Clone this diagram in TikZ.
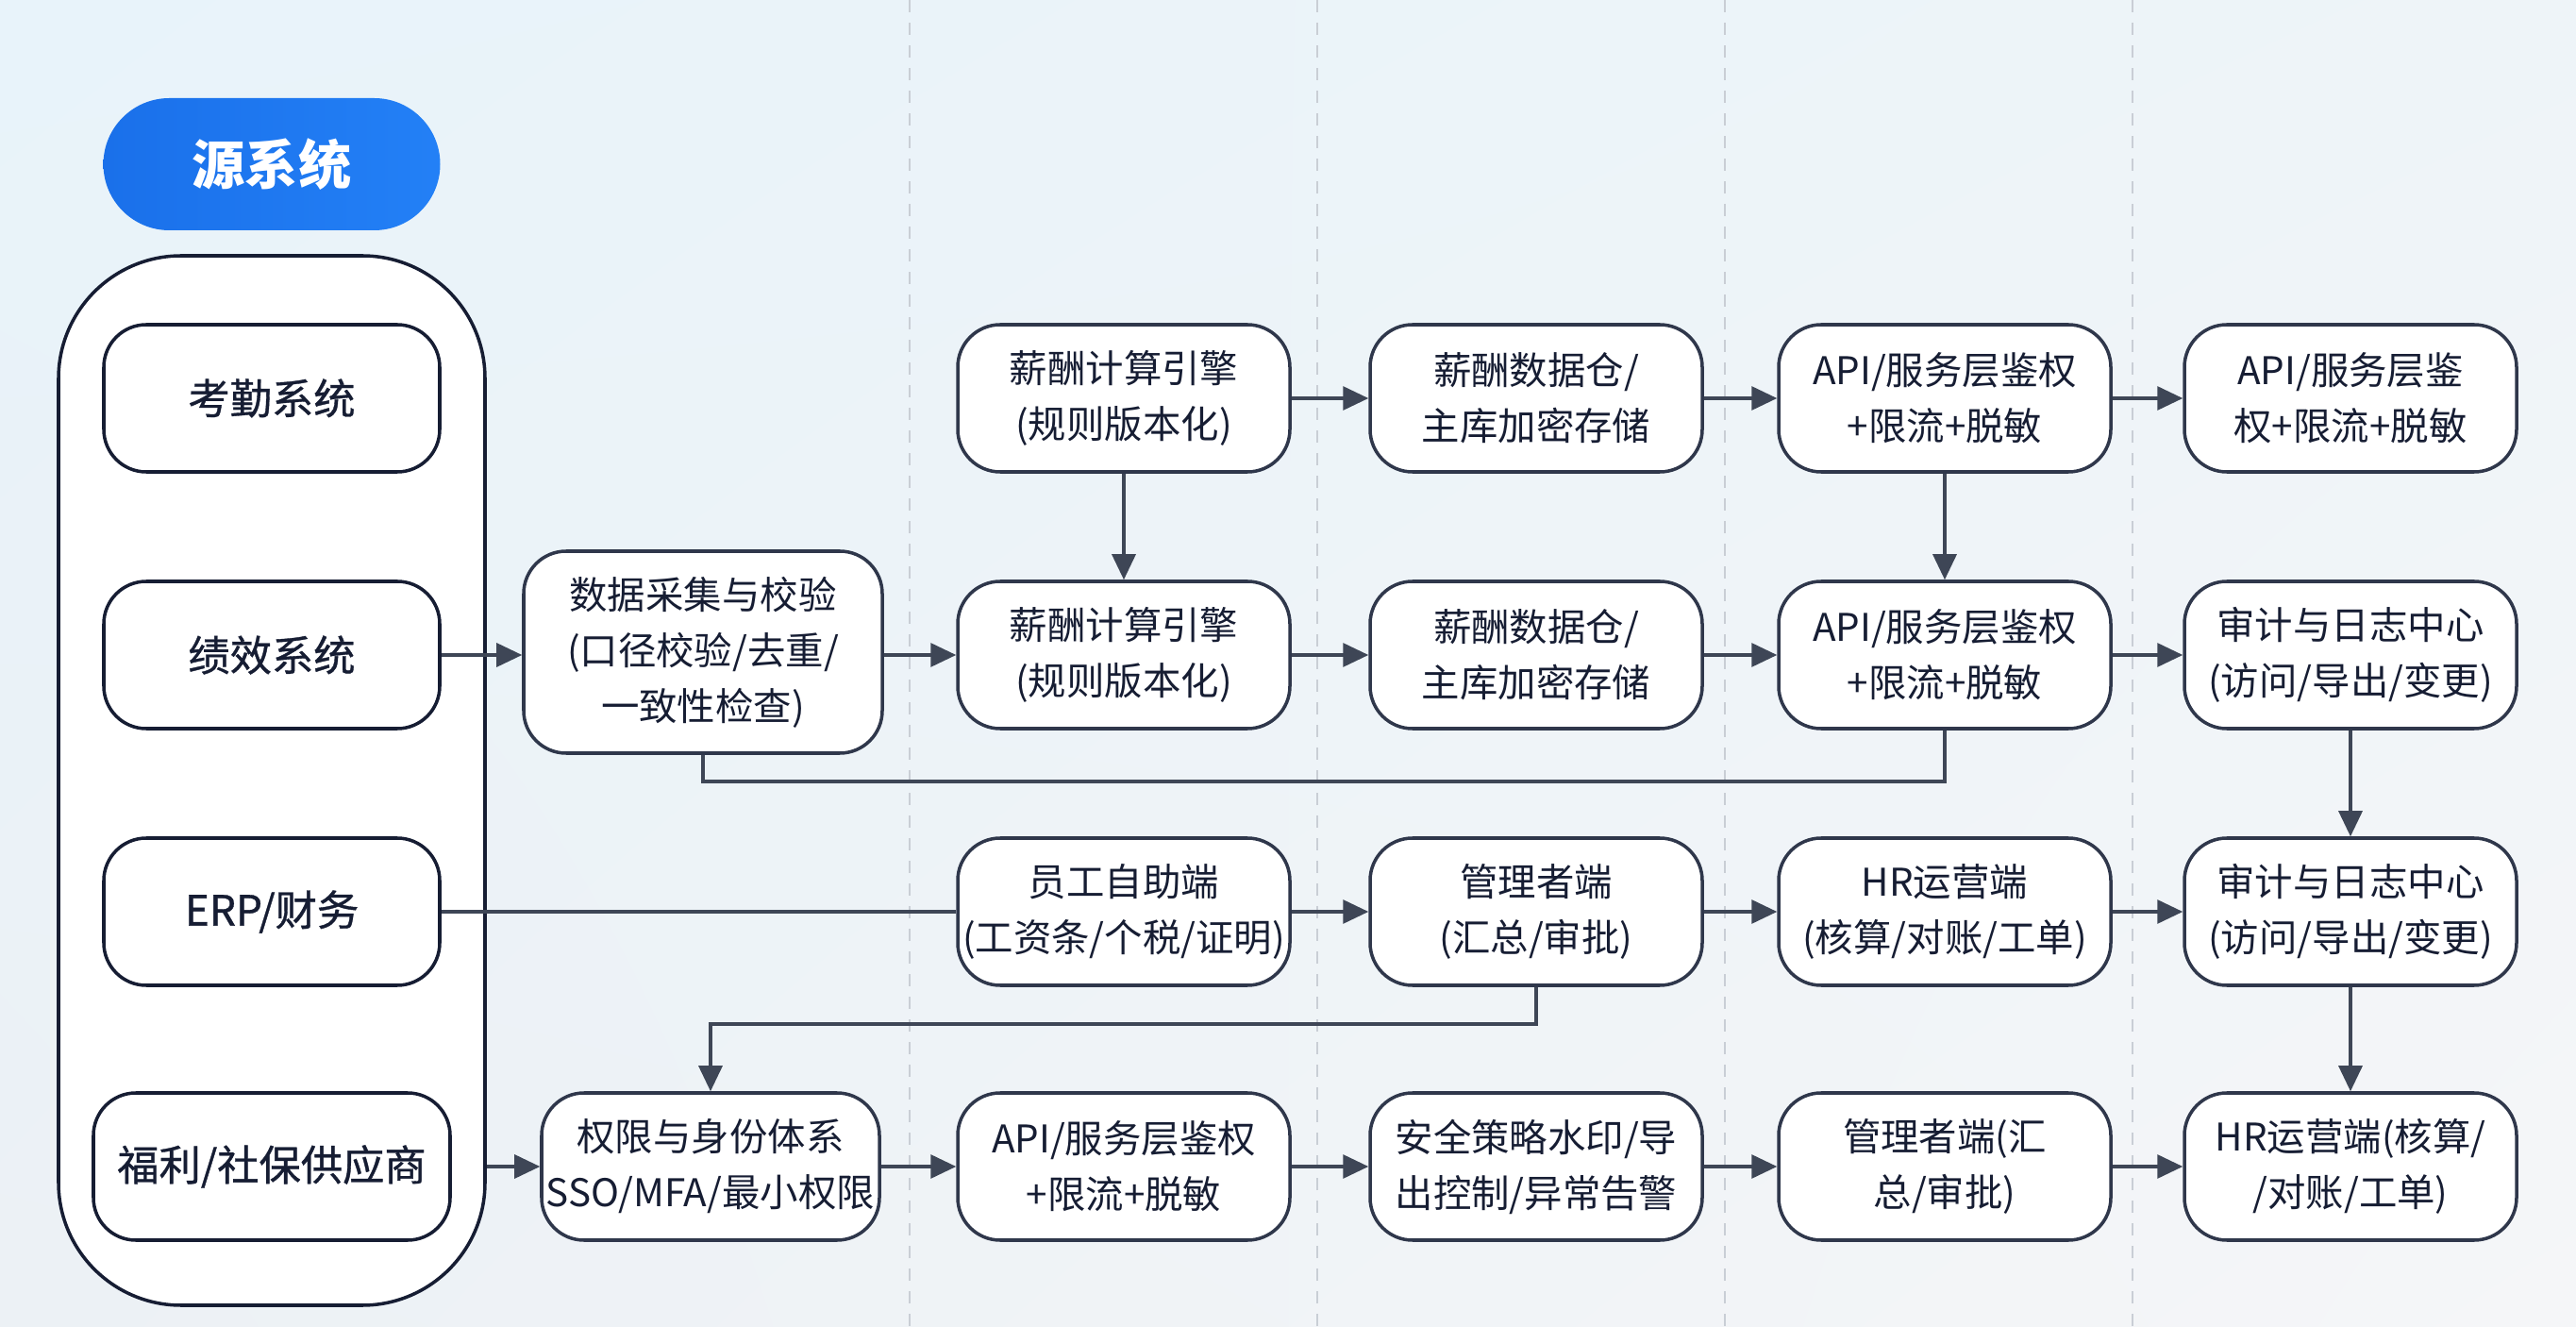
\documentclass[tikz,border=0pt]{standalone}
\usepackage{fontspec}
\newfontfamily\cjk{Noto Sans CJK SC}
\newfontfamily\cjksrc[FakeBold=0.8]{Noto Sans CJK SC}
\usetikzlibrary{arrows.meta, positioning, calc, shadings}

\definecolor{ink}{HTML}{161D33}
\definecolor{boxline}{HTML}{2F374B}
\definecolor{edgegray}{HTML}{3E4656}
\definecolor{pillL}{HTML}{1A70EA}
\definecolor{pillR}{HTML}{2380F6}
\definecolor{bgUL}{HTML}{E8F3FA}
\definecolor{bgUR}{HTML}{EEF4F8}
\definecolor{bgLL}{HTML}{ECF1F5}
\definecolor{bgLR}{HTML}{F5F6F8}
\definecolor{laneline}{HTML}{C9CED5}

\begin{document}
\begin{tikzpicture}[
    font=\cjk,
    box/.style={draw=boxline, line width=1pt, fill=white, rounded corners=0.45cm,
        minimum width=3.52cm, minimum height=1.56cm, align=center, inner xsep=1pt,
        text=ink, font=\cjk\fontsize{11.5}{16.8}\selectfont},
    srcbox/.style={box, draw=ink, minimum width=3.56cm, font=\cjksrc\fontsize{12.6}{15}\selectfont},
    flow/.style={draw=edgegray, line width=0.9pt, -{Triangle[length=0.27cm, width=0.25cm]}},
    link/.style={draw=edgegray, line width=0.9pt},
  ]
    % Background and lane separators
    \shade[upper left=bgUL, upper right=bgUR, lower left=bgLL, lower right=bgLR] (0,0) rectangle (27.3,14.05);
    \useasboundingbox (0,0) rectangle (27.3,14.05);
    \foreach \x in {9.64, 13.96, 18.28, 22.60} {
        \draw[laneline, line width=0.6pt, dash pattern=on 0.13cm off 0.11cm] (\x,0) -- (\x,14.05);
    }

    % Source systems
    \node[left color=pillL, right color=pillR, rounded corners=0.7cm, minimum width=3.57cm,
        minimum height=1.40cm, text=white, font=\cjk\bfseries\fontsize{16}{18}\selectfont] (title) at (2.88,12.31) {源系统};
    \node[draw=ink, line width=1pt, fill=white, rounded corners=1.3cm,
        minimum width=4.52cm, minimum height=11.12cm] (src) at (2.88,5.78) {};
    \node[srcbox] (attend) at (2.88,9.83) {考勤系统};
    \node[srcbox] (perf) at (2.88,7.11) {绩效系统};
    \node[srcbox] (erp) at (2.88,4.39) {ERP/财务};
    \node[srcbox, minimum width=3.78cm] (welfare) at (2.88,1.69) {福利/社保供应商};

    % Row 1
    \node[box] (calc1) at (11.91,9.83) {薪酬计算引擎\\(规则版本化)};
    \node[box] (dw1) at (16.28,9.83) {薪酬数据仓/\\主库加密存储};
    \node[box] (api1) at (20.61,9.83) {API/服务层鉴权\\+限流+脱敏};
    \node[box] (api1b) at (24.91,9.83) {API/服务层鉴\\权+限流+脱敏};

    % Row 2
    \node[box, minimum width=3.80cm, minimum height=2.14cm] (collect) at (7.45,7.14) {数据采集与校验\\(口径校验/去重/\\一致性检查)};
    \node[box] (calc2) at (11.91,7.11) {薪酬计算引擎\\(规则版本化)};
    \node[box] (dw2) at (16.28,7.11) {薪酬数据仓/\\主库加密存储};
    \node[box] (api2) at (20.61,7.11) {API/服务层鉴权\\+限流+脱敏};
    \node[box] (audit2) at (24.91,7.11) {审计与日志中心\\(访问/导出/变更)};

    % Row 3
    \node[box] (self3) at (11.91,4.39) {员工自助端\\(工资条/个税/证明)};
    \node[box] (mgr3) at (16.28,4.39) {管理者端\\(汇总/审批)};
    \node[box] (hr3) at (20.61,4.39) {HR运营端\\(核算/对账/工单)};
    \node[box] (audit3) at (24.91,4.39) {审计与日志中心\\(访问/导出/变更)};

    % Row 4
    \node[box, minimum width=3.58cm] (perm) at (7.53,1.69) {权限与身份体系\\SSO/MFA/最小权限};
    \node[box] (api4) at (11.91,1.69) {API/服务层鉴权\\+限流+脱敏};
    \node[box] (sec4) at (16.28,1.69) {安全策略水印/导\\出控制/异常告警};
    \node[box] (mgr4) at (20.61,1.69) {管理者端(汇\\总/审批)};
    \node[box] (hr4) at (24.91,1.69) {HR运营端(核算/\\/对账/工单)};

    % Bus lines
    \coordinate (busA) at (0,5.77);
    \coordinate (busB) at (0,3.20);

    % Horizontal flows
    \draw[flow] (calc1) -- (dw1);
    \draw[flow] (dw1) -- (api1);
    \draw[flow] (api1) -- (api1b);
    \draw[flow] (perf.east) -- (perf.east -| collect.west);
    \draw[flow] (collect.east |- calc2) -- (calc2);
    \draw[flow] (calc2) -- (dw2);
    \draw[flow] (dw2) -- (api2);
    \draw[flow] (api2) -- (audit2);
    \draw[link] (erp) -- (self3);
    \draw[flow] (self3) -- (mgr3);
    \draw[flow] (mgr3) -- (hr3);
    \draw[flow] (hr3) -- (audit3);
    \draw[flow] (src.east |- welfare) -- (perm);
    \draw[flow] (perm) -- (api4);
    \draw[flow] (api4) -- (sec4);
    \draw[flow] (sec4) -- (mgr4);
    \draw[flow] (mgr4) -- (hr4);

    % Vertical flows
    \draw[flow] (calc1) -- (calc2);
    \draw[flow] (api1) -- (api2);
    \draw[flow] (audit2) -- (audit3);
    \draw[flow] (audit3) -- (hr4);
    \draw[link] (collect.south) |- (api2.south |- busA) -- (api2.south);
    \draw[flow] (mgr3.south) |- (perm.north |- busB) -- (perm.north);
\end{tikzpicture}
\end{document}
